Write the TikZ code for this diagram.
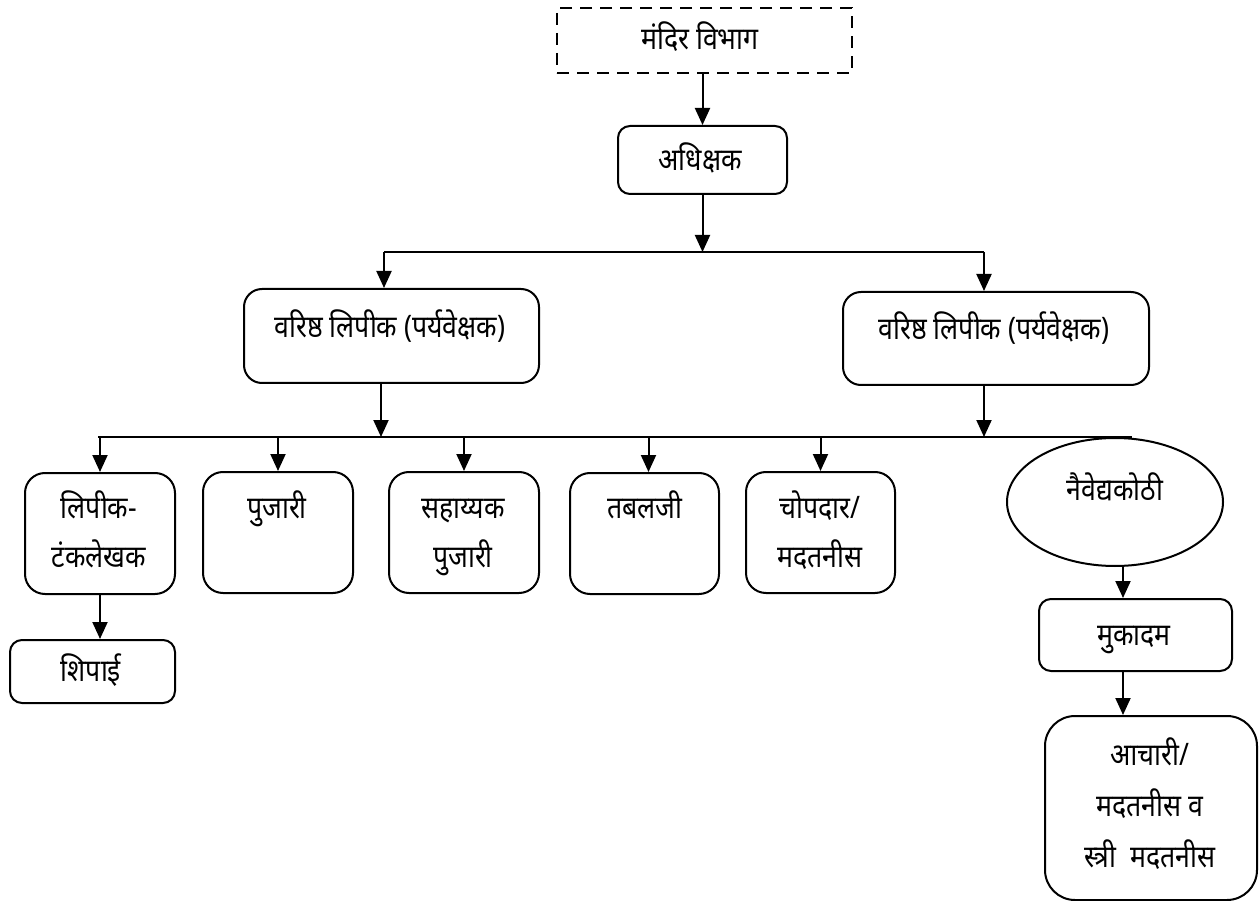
\documentclass[tikz,border=0pt]{standalone}
\usepackage{fontspec}
\newfontfamily\deva[Script=Devanagari,FakeStretch=0.86]{Noto Sans}
\usetikzlibrary{arrows.meta,shapes.geometric}
\begin{document}
\begin{tikzpicture}[x=1pt,y=-1pt,
  box/.style={draw,line width=2pt,rounded corners=#1,anchor=north west,inner sep=0pt},
  box/.default=18pt,
  lbl/.style={inner sep=0pt,text height=22pt,text depth=8pt,font=\deva\fontsize{31}{34}\selectfont},
  arr/.style={line width=2pt,-{Triangle[length=17pt,width=15pt]}},
  bus/.style={line width=2pt}]
\useasboundingbox (0,0) rectangle (1259,901);
% boxes
\node[box=0pt,dash pattern=on 12pt off 8pt,minimum width=295pt,minimum height=65pt] (top) at (556,7) {};
\node[box=12pt,minimum width=169pt,minimum height=68pt] (adh) at (617,125) {};
\node[box,minimum width=295pt,minimum height=94pt] (sc1) at (243,288) {};
\node[box,minimum width=306pt,minimum height=93pt] (sc2) at (842,291) {};
\node[box=20pt,minimum width=150pt,minimum height=121pt] (b1) at (24,472) {};
\node[box=20pt,minimum width=150pt,minimum height=121pt] (b2) at (202,471) {};
\node[box=20pt,minimum width=150pt,minimum height=121pt] (b3) at (388,471) {};
\node[box=20pt,minimum width=149pt,minimum height=121pt] (b4) at (569,472) {};
\node[box=20pt,minimum width=149pt,minimum height=121pt] (b5) at (745,471) {};
\node[box=12pt,minimum width=165pt,minimum height=63pt] (ship) at (9,639) {};
\node[draw,line width=2pt,ellipse,minimum width=216pt,minimum height=128pt,inner sep=0pt] (ell) at (1115,502) {};
\node[box=12pt,minimum width=193pt,minimum height=72pt] (muk) at (1038,598) {};
\node[box=30pt,minimum width=212pt,minimum height=184pt] (ach) at (1044,715) {};
% labels
\node[lbl] (topt) at (700,43) {मंदिर विभाग};
\node[lbl] (adht) at (700,164) {अधिक्षक};
\node[lbl] (sc1t) at (390,331) {वरिष्ठ लिपीक (पर्यवेक्षक)};
\node[lbl] (sc2t) at (994,333) {वरिष्ठ लिपीक (पर्यवेक्षक)};
\node[lbl] (b1a) at (99,511) {लिपीक-};
\node[lbl] (b1b) at (99,560) {टंकलेखक};
\node[lbl] (b2a) at (277,511) {पुजारी};
\node[lbl] (b3a) at (463,511) {सहाय्यक};
\node[lbl] (b3b) at (463,560) {पुजारी};
\node[lbl] (b4a) at (645,511) {तबलजी};
\node[lbl] (b5a) at (820,511) {चोपदार/};
\node[lbl] (b5b) at (820,560) {मदतनीस};
\node[lbl] (shipt) at (91,674) {शिपाई};
\node[lbl] (ellt) at (1115,493) {नैवेद्यकोठी};
\node[lbl] (mukt) at (1134,638) {मुकादम};
\node[lbl] (acha) at (1150,758) {आचारी/};
\node[lbl] (achb) at (1150,809) {मदतनीस व};
\node[lbl] (achc) at (1150,860) {स्त्री\ \ मदतनीस};
% junction coordinates
\coordinate (j1) at (701.5,252);
\coordinate (bl) at (384,252);
\coordinate (br) at (984,252);
\coordinate (j2l) at (381,437);
\coordinate (j2r) at (984,437);
\coordinate (busa) at (98,437);
\coordinate (busb) at (1132,437);
% connectors
\draw[arr] (adh.north |- top.south) -- (adh.north);
\draw[arr] (adh.south) -- (adh.south |- j1);
\draw[bus] (bl) -- (br);
\draw[arr] (bl) -- (bl |- sc1.north);
\draw[arr] (br) -- (br |- sc2.north);
\draw[arr] (j2l |- sc1.south) -- (j2l);
\draw[arr] (j2r |- sc2.south) -- (j2r);
\draw[bus] (busa) -- (busb);
\draw[arr] (b1.north |- busa) -- (b1.north);
\draw[arr] (b2.north |- busa) -- (b2.north);
\draw[arr] (b3.north |- busa) -- (b3.north);
\draw[arr] ([xshift=4pt]b4.north |- busa) -- ([xshift=4pt]b4.north);
\draw[arr] (b5.north |- busa) -- (b5.north);
\draw[arr] (b1.south) -- (b1.south |- ship.north);
\draw[arr] ([xshift=8pt]ell.south) -- ([xshift=8pt]ell.south |- muk.north);
\draw[arr] ([xshift=8pt]ell.south |- muk.south) -- ([xshift=8pt]ell.south |- ach.north);
\end{tikzpicture}
\end{document}
